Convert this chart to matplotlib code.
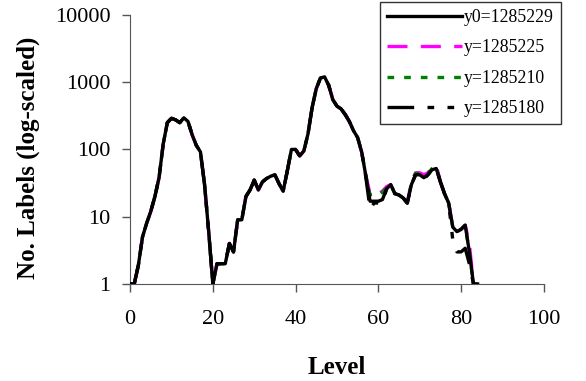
import numpy as np
import matplotlib
matplotlib.use("Agg")
from matplotlib import pyplot as plt
from matplotlib.ticker import FixedLocator, NullLocator

plt.rcParams['font.family'] = ['Liberation Serif', 'DejaVu Serif']

# levels 0..84
levels = list(range(85))

# y0=1285229
y0 = [1, 1, 1.9, 5, 8, 12, 20, 38, 120, 250,
      290, 275, 250, 295, 260, 165, 115, 92, 30, 6,
      1, 2, 2, 2, 4, 3, 9, 9, 20, 25,
      35, 25, 33, 37, 40, 42, 31, 24, 48, 100,
      100, 80, 95, 170, 420, 800, 1150, 1200, 900, 550,
      440, 400, 330, 260, 190, 150, 90, 40, 17, 17,
      17, 18, 26, 30, 22, 21, 19, 16, 30, 42,
      42, 38, 42, 50, 52, 33, 22, 16, 7, 6,
      6.5, 7.5, 3, 1, 1]

# y=1285225
y225 = list(y0)
y225[13] = 310
for i, v in zip(range(58, 63), [22, 23, 22, 24, 28]):
    y225[i] = v
for i, v in zip(range(68, 75), [33, 45, 45, 42, 45, 55, 58]):
    y225[i] = v
y225[82] = 4

# y=1285210
y210 = list(y0)
for i, v in zip(range(58, 63), [21, 22, 21, 23, 27]):
    y210[i] = v
for i, v in zip(range(68, 75), [32, 44, 44, 41, 44, 52, 55]):
    y210[i] = v

# y=1285180
y180 = list(y0)
for i, v in zip(range(57, 62), [38, 13, 16, 16, 16]):
    y180[i] = v
y180[71] = 36
for i, v in zip(range(78, 84), [4.5, 3, 3, 3.4, 2, 1]):
    y180[i] = v

fig = plt.figure(figsize=(5.86, 3.81), dpi=100)
ax = fig.add_axes([0.222, 0.2546, 0.706, 0.7064])

l1, = ax.plot(levels, y0, color='black', lw=2.4, zorder=4, label='y0=1285229')
l2, = ax.plot(levels, y225, color='#ff00ff', lw=2.4, dashes=(6, 4), zorder=2, label='y=1285225')
l3, = ax.plot(levels, y210, color='green', lw=2.4, dashes=(2, 3), zorder=3, label='y=1285210')
l4, = ax.plot(levels, y180, color='black', lw=2.4, dashes=(8, 4, 2, 4, 2, 4), zorder=5, label='y=1285180')

ax.set_yscale('log')
ax.set_ylim(1, 10000)
ax.set_xlim(0, 100)
ax.yaxis.set_major_locator(FixedLocator([1, 10, 100, 1000, 10000]))
ax.yaxis.set_minor_locator(NullLocator())
ax.set_yticklabels(['1', '10', '100', '1000', '10000'])
ax.set_xticks([0, 20, 40, 60, 80, 100])
ax.tick_params(labelsize=16, direction='out', length=6, width=1, color='#555555')
ax.tick_params(axis='y', pad=8)
ax.tick_params(axis='x', pad=13)

ax.spines['top'].set_visible(False)
ax.spines['right'].set_visible(False)
ax.spines['left'].set_color('#555555')
ax.spines['bottom'].set_color('#555555')

ax.set_xlabel('Level', fontsize=18, fontweight='bold', va='center')
ax.set_ylabel('No. Labels (log-scaled)', fontsize=18, fontweight='bold', va='center')
ax.xaxis.set_label_coords(0.5, -0.309)
ax.yaxis.set_label_coords(-0.246, 0.468)

leg = fig.legend(handles=[l1, l2, l3, l4], loc='upper left',
                 bbox_to_anchor=(380 / 586, 1 - 2 / 381),
                 fontsize=12.8, frameon=True, fancybox=False, shadow=False,
                 handlelength=4.2, handletextpad=0.1, borderpad=0.4,
                 labelspacing=0.75, borderaxespad=0)
leg.get_frame().set_edgecolor('black')
leg.get_frame().set_linewidth(1)

fig.savefig('out.png', dpi=100)
